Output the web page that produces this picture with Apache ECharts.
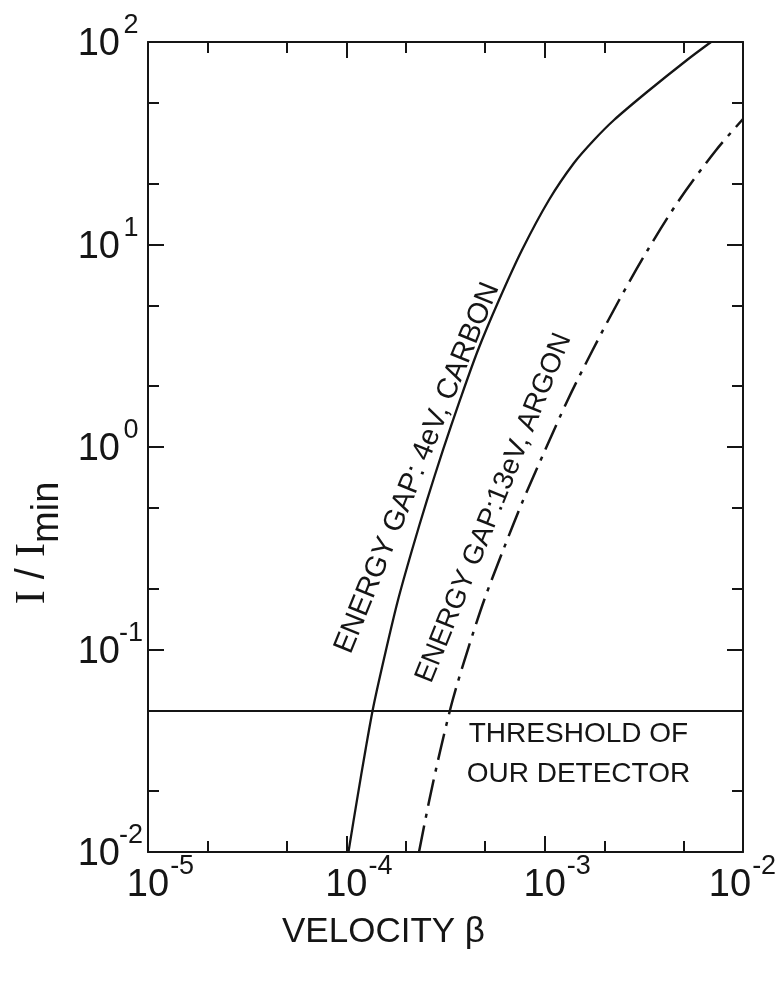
<!DOCTYPE html>
<html>
<head>
<meta charset="utf-8">
<script src="https://cdn.jsdelivr.net/npm/echarts@6/dist/echarts.min.js"></script>
<style>
  html, body { margin: 0; padding: 0; background: #ffffff; }
  #chart { width: 776px; height: 985px; }
</style>
</head>
<body>
<div id="chart"></div>
<script>
// Relative ionization yield vs. particle velocity for two detector materials
const carbonBeta  = [1.025e-4, 1.132e-4, 1.249e-4, 1.371e-4, 1.585e-4, 1.822e-4, 2.144e-4, 2.551e-4, 3.072e-4, 3.742e-4, 4.613e-4, 5.886e-4, 7.686e-4, 1.051e-3, 1.405e-3, 1.773e-3, 2.237e-3, 3.281e-3, 5.220e-3, 6.899e-3];
const carbonRatio = [0.01, 0.0181, 0.0319, 0.0526, 0.0994, 0.1755, 0.310, 0.547, 0.967, 1.707, 3.013, 5.319, 9.394, 16.59, 25.26, 32.81, 41.19, 56.63, 81.5, 100];

const argonBeta  = [2.325e-4, 2.623e-4, 2.980e-4, 3.437e-4, 4.092e-4, 4.955e-4, 6.180e-4, 7.793e-4, 1.006e-3, 1.307e-3, 1.746e-3, 2.375e-3, 3.308e-3, 4.768e-3, 7.326e-3, 1e-2];
const argonRatio = [0.01, 0.0181, 0.0319, 0.0563, 0.0994, 0.1755, 0.310, 0.547, 0.967, 1.707, 3.013, 5.319, 9.394, 16.59, 29.29, 41.66];

const thresholdRatio = 0.05;

const xMajorTicks = [1e-5, 1e-4, 1e-3, 1e-2];
const xMinorTicks = [2e-5, 5e-5, 2e-4, 5e-4, 2e-3, 5e-3];
const yMajorTicks = [1e-2, 1e-1, 1, 10, 100];
const yMinorTicks = [2e-2, 5e-2, 0.2, 0.5, 2, 5, 20, 50];

const carbonText = 'ENERGY GAP: 4eV, CARBON';
const argonText = 'ENERGY GAP:13eV, ARGON';
const thresholdText = 'THRESHOLD OF\nOUR DETECTOR';
const xTitle = 'VELOCITY β';

const font = "'Liberation Sans', Arial, sans-serif";
const serif = "'Liberation Serif', 'DejaVu Serif', serif";
const ink = '#151515';

const pairs = (xs, ys) => xs.map((x, i) => [x, ys[i]]);
const expOf = v => Math.round(Math.log10(v));
const supOf = e => (e < 0 ? '-' + Math.abs(e) : String(e));

// "10" with a raised exponent: the exponent token carries bottom padding,
// which lifts its glyphs above the shared line centre.
const baseTok = { fontSize: 38, lineHeight: 38, fontFamily: font, color: ink };
const supTok = { fontSize: 27, lineHeight: 27, padding: [0, 0, 38, 0], width: 26, align: 'left', fontFamily: font, color: ink };

const xLabel = {
  show: true,
  customValues: xMajorTicks,
  margin: 15,
  formatter: v => {
    const e = expOf(v);
    return (e === -2 ? '' : '{p| }') + '{b|10}{s|' + supOf(e) + '}';
  },
  rich: { p: { width: 26, fontSize: 10 }, b: baseTok, s: supTok }
};

const yLabel = {
  show: true,
  customValues: yMajorTicks,
  margin: 6,
  padding: [6, 0, 0, 0],
  formatter: v => '{b|10}{s|' + supOf(expOf(v)) + '}',
  rich: { b: baseTok, s: Object.assign({}, supTok, { width: 22 }) }
};

const lineStyle = { color: ink, width: 2 };

function axis(position, ticks, len, opts) {
  return Object.assign({
    type: 'log',
    logBase: 10,
    position: position,
    axisLine: { show: false, onZero: false, lineStyle: lineStyle },
    axisTick: { show: true, inside: true, length: len, customValues: ticks, lineStyle: lineStyle },
    axisLabel: { show: false },
    splitLine: { show: false },
    minorTick: { show: false },
    minorSplitLine: { show: false }
  }, opts);
}

const xRange = { min: 1e-5, max: 1e-2 };
const yRange = { min: 1e-2, max: 1e2 };

const option = {
  backgroundColor: '#ffffff',
  animation: false,
  grid: { left: 148, right: 33, top: 42, bottom: 133, containLabel: false, outerBoundsMode: 'none' },
  xAxis: [
    axis('bottom', xMajorTicks, 16, Object.assign({}, xRange, {
      axisLine: { show: true, onZero: false, lineStyle: lineStyle },
      axisLabel: xLabel,
      name: xTitle,
      nameLocation: 'middle',
      nameGap: 63,
      nameMoveOverlap: false,
      nameTextStyle: { fontSize: 35, fontFamily: font, color: ink, padding: [0, 124, 0, 0] }
    })),
    axis('bottom', xMinorTicks, 11, xRange),
    axis('top', xMajorTicks, 16, Object.assign({}, xRange, {
      axisLine: { show: true, onZero: false, lineStyle: lineStyle }
    })),
    axis('top', xMinorTicks, 11, xRange)
  ],
  yAxis: [
    axis('left', yMajorTicks, 16, Object.assign({}, yRange, {
      axisLine: { show: true, onZero: false, lineStyle: lineStyle },
      axisLabel: yLabel,
      name: '{i|I}{d| / }{i|I}{m|min}',
      nameLocation: 'middle',
      nameGap: 80,
      nameTextStyle: {
        padding: [0, 192, 0, 0],
        rich: {
          i: { fontSize: 42, lineHeight: 42, fontFamily: serif, color: ink },
          d: { fontSize: 40, lineHeight: 40, fontFamily: font, color: ink },
          m: { fontSize: 38, lineHeight: 38, padding: [30, 0, 0, 0], fontFamily: font, color: ink }
        }
      }
    })),
    axis('left', yMinorTicks, 11, yRange),
    axis('right', yMajorTicks, 16, Object.assign({}, yRange, {
      axisLine: { show: true, onZero: false, lineStyle: lineStyle }
    })),
    axis('right', yMinorTicks, 11, yRange)
  ],
  series: [
    {
      name: 'carbon',
      type: 'line',
      xAxisIndex: 0,
      yAxisIndex: 0,
      data: pairs(carbonBeta, carbonRatio),
      smooth: 0.3,
      symbol: 'none',
      lineStyle: { color: ink, width: 2.3 },
      markLine: {
        silent: true,
        symbol: ['none', 'none'],
        label: { show: false },
        lineStyle: { color: ink, width: 1.8, type: 'solid' },
        data: [{ yAxis: thresholdRatio }]
      }
    },
    {
      name: 'argon',
      type: 'line',
      xAxisIndex: 0,
      yAxisIndex: 0,
      data: pairs(argonBeta, argonRatio),
      smooth: 0.3,
      symbol: 'none',
      lineStyle: { color: ink, width: 2.5, type: [27, 8, 4, 8] }
    }
  ]
};

const chart = echarts.init(document.getElementById('chart'), null, { renderer: 'canvas' });
chart.setOption(option);

// Curve captions and the threshold note, anchored in data space
const at = (b, r) => chart.convertToPixel({ seriesIndex: 0 }, [b, r]);
const deg = Math.PI / 180;
const c1 = at(2.28e-4, 0.787);
const c2 = at(5.55e-4, 0.50);
const c3 = at(1.48e-3, 0.0305);

chart.setOption({
  graphic: [
    {
      type: 'text', x: c1[0], y: c1[1], rotation: 68 * deg,
      style: { text: carbonText, x: 0, y: 0, fill: ink, font: '29px ' + font, align: 'center', verticalAlign: 'middle' }
    },
    {
      type: 'text', x: c2[0], y: c2[1], rotation: 68 * deg,
      style: { text: argonText, x: 0, y: 0, fill: ink, font: '28px ' + font, align: 'center', verticalAlign: 'middle' }
    },
    {
      type: 'text', x: c3[0], y: c3[1],
      style: { text: thresholdText, x: 0, y: 0, fill: ink, font: '28px ' + font, align: 'center', verticalAlign: 'middle', lineHeight: 40 }
    }
  ]
});
</script>
</body>
</html>
